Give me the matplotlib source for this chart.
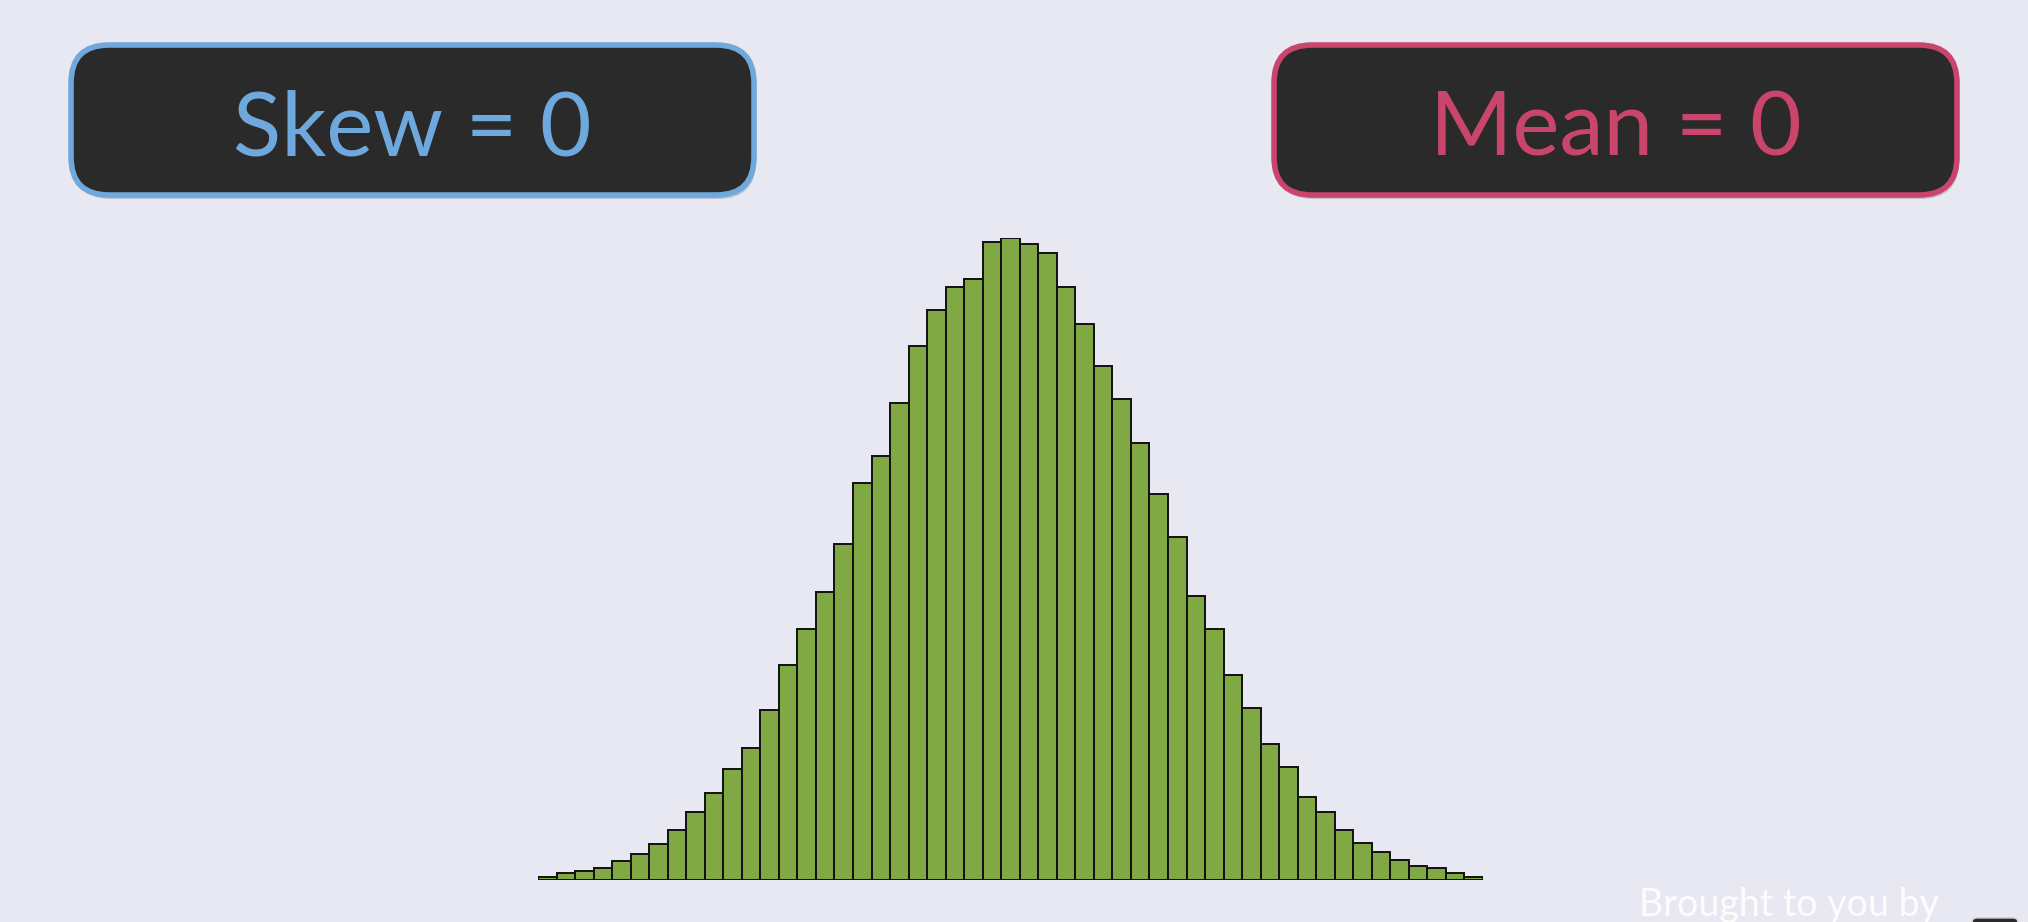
import numpy as np
import matplotlib.pyplot as plt
from matplotlib.patches import FancyBboxPatch

# bar heights (arbitrary units, 51 bins)
counts = [6, 16, 20, 28, 43, 60, 82, 115, 156, 201, 255, 305, 391, 496, 578,
          664, 773, 914, 976, 1099, 1230, 1312, 1366, 1384, 1470, 1479, 1466,
          1444, 1367, 1280, 1185, 1109, 1007, 890, 790, 654, 578, 473, 396,
          314, 260, 192, 156, 115, 86, 64, 47, 33, 28, 15, 6]
bin_edges = np.linspace(-4.25, 4.25, len(counts) + 1)

labels = ['Skew = 0', 'Mean = 0']
label_colors = ['#6fa8dc', '#c9456c']
footer = 'Brought to you by'

bg = '#e8e8f2'
plt.rcParams['font.family'] = ['Lato', 'DejaVu Sans']

W, H = 2028, 922
fig = plt.figure(figsize=(W / 100, H / 100), dpi=100, facecolor=bg)

# histogram axes
ax = fig.add_axes([538 / W, (H - 880) / H, 945 / W, (880 - 238) / H])
ax.set_facecolor(bg)
centers = (bin_edges[:-1] + bin_edges[1:]) / 2
width = bin_edges[1] - bin_edges[0]
ax.bar(centers, counts, width=width, color='#80a843', edgecolor='#111111',
       linewidth=1.4)
ax.set_xlim(bin_edges[0], bin_edges[-1])
ax.set_ylim(0, max(counts))
ax.axis('off')

# overlay in pixel units for the label boxes
ov = fig.add_axes([0, 0, 1, 1], facecolor='none')
ov.set_xlim(0, W)
ov.set_ylim(H, 0)
ov.axis('off')

boxes = [(71, 45), (1274, 45)]
bw, bh = 683, 150
for (x0, y0), lab, col in zip(boxes, labels, label_colors):
    shadow = FancyBboxPatch((x0 + 2, y0 + 4), bw, bh,
                            boxstyle='round,pad=0,rounding_size=38',
                            facecolor='#9a9aa8', edgecolor='none', alpha=0.5)
    ov.add_patch(shadow)
    box = FancyBboxPatch((x0, y0), bw, bh,
                         boxstyle='round,pad=0,rounding_size=38',
                         facecolor='#2a2a2a', edgecolor=col, linewidth=4)
    ov.add_patch(box)
    ov.text(x0 + bw / 2, 155, lab, color=col, fontsize=64,
            ha='center', va='baseline')

ov.text(1639, 916, footer, color='white', fontsize=27,
        ha='left', va='baseline', alpha=0.9)
corner = FancyBboxPatch((1972, 918), 46, 30,
                        boxstyle='round,pad=0,rounding_size=5',
                        facecolor='#2a2a2a', edgecolor='#cccccc', linewidth=1)
ov.add_patch(corner)

fig.savefig('out.png', dpi=100, facecolor=bg)
